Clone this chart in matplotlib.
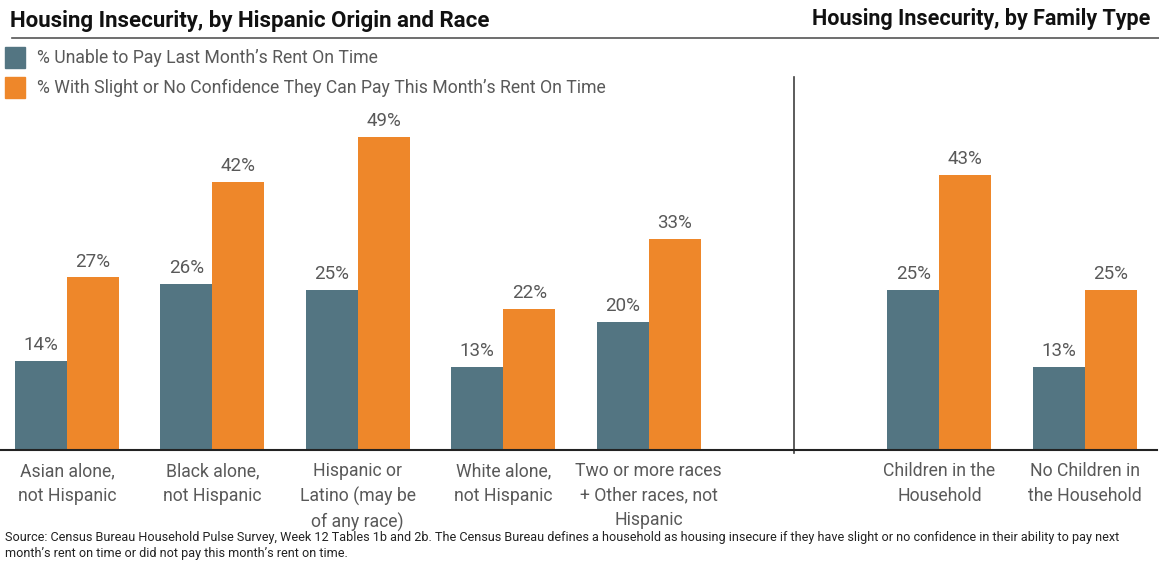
"""Housing insecurity bar chart: by Hispanic origin/race and by family type."""
import numpy as np
import matplotlib
matplotlib.use('Agg')
import matplotlib.pyplot as plt
from matplotlib.patches import Rectangle

plt.rcParams['font.family'] = ['Roboto', 'DejaVu Sans']

# data
race_groups = ['Asian alone,\nnot Hispanic', 'Black alone,\nnot Hispanic',
               'Hispanic or\nLatino (may be\nof any race)', 'White alone,\nnot Hispanic',
               'Two or more races\n+ Other races, not\nHispanic']
family_groups = ['Children in the\nHousehold', 'No Children in\nthe Household']
unable_race = [14, 26, 25, 13, 20]
noconf_race = [27, 42, 49, 22, 33]
unable_family = [25, 13]
noconf_family = [43, 25]

series_names = ['% Unable to Pay Last Month\u2019s Rent On Time',
                '% With Slight or No Confidence They Can Pay This Month\u2019s Rent On Time']

GRAY = '#537582'
ORANGE = '#ee872a'
TXT = '#595959'

W, H = 1159, 561
fig = plt.figure(figsize=(W / 100, H / 100), dpi=100)

# axes: baseline at y=450 px, top at 77 px
ax = fig.add_axes([0, (H - 450) / H, 1157 / W, (450 - 77) / H])
px_per_unit = 145.4
ax.set_xlim(-67 / px_per_unit, (1157 - 67) / px_per_unit)
ax.set_ylim(0, 373 / 6.39)

labels = race_groups + family_groups
unable = unable_race + unable_family
noconf = noconf_race + noconf_family
x = np.array(list(range(len(race_groups))) +
             [len(race_groups) + 1 + i for i in range(len(family_groups))], dtype=float)
bw = 52 / px_per_unit

b1 = ax.bar(x - bw / 2, unable, width=bw, color=GRAY, zorder=2)
b2 = ax.bar(x + bw / 2, noconf, width=bw, color=ORANGE, zorder=2)

for bars in (b1, b2):
    for b in bars:
        ax.annotate(f'{b.get_height():.0f}%', (b.get_x() + b.get_width() / 2, b.get_height()),
                    xytext=(0, 5), textcoords='offset points', ha='center', va='bottom',
                    fontsize=13.5, color=TXT)

# divider between panels
ax.plot([len(race_groups), len(race_groups)], [-0.5, ax.get_ylim()[1]],
        color='#404040', lw=1.2, clip_on=False)

for s in ['top', 'right', 'left']:
    ax.spines[s].set_visible(False)
ax.spines['bottom'].set_color('#222222')
ax.spines['bottom'].set_linewidth(1.5)
ax.set_yticks([])
ax.set_xticks(x)
ax.set_xticklabels(labels, fontsize=12.7, color=TXT, linespacing=1.45)
ax.tick_params(axis='x', length=0, pad=9)

# titles and rule
fig.text(10 / W, 1 - 21 / H, 'Housing Insecurity, by Hispanic Origin and Race',
         fontsize=16, fontweight='bold', va='center', ha='left', color='#111111')
fig.text(1150 / W, 1 - 19 / H, 'Housing Insecurity, by Family Type',
         fontsize=15.5, fontweight='bold', va='center', ha='right', color='#111111')
fig.add_artist(plt.Line2D([12 / W, 1], [1 - 38 / H, 1 - 38 / H], color='#555555', lw=1.2))

# legend
for i, (name, col) in enumerate(zip(series_names, [GRAY, ORANGE])):
    yc = 58 + i * 30
    fig.add_artist(Rectangle((5 / W, 1 - (yc + 10) / H), 20 / W, 21 / H,
                             color=col, transform=fig.transFigure))
    fig.text(37 / W, 1 - yc / H, name, fontsize=12.7, color=TXT, va='center', ha='left')

fig.text(5 / W, 1 - 545 / H,
         'Source: Census Bureau Household Pulse Survey, Week 12 Tables 1b and 2b. The Census Bureau '
         'defines a household as housing insecure if they have slight or no confidence in their ability '
         'to pay next\nmonth\u2019s rent on time or did not pay this month\u2019s rent on time.',
         fontsize=9.1, color='#222222', va='center', ha='left', linespacing=1.3)

fig.savefig('out.png', dpi=100)
